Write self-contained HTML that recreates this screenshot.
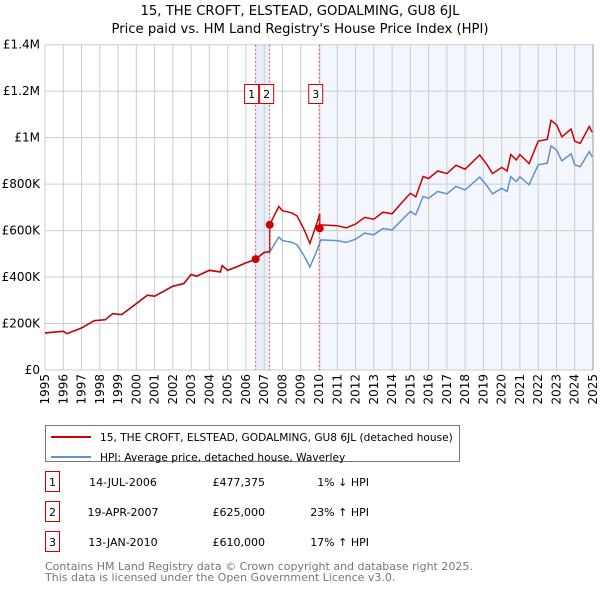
<!DOCTYPE html>
<html><head><meta charset="utf-8"><style>
body{margin:0;background:#fff;font-family:"DejaVu Sans","Liberation Sans",sans-serif;}
svg text{font-family:"DejaVu Sans","Liberation Sans",sans-serif;}
</style></head><body>
<svg id="c" width="600" height="590">
<text x="300" y="15" text-anchor="middle" font-size="13.2">15, THE CROFT, ELSTEAD, GODALMING, GU8 6JL</text>
<text x="300" y="33" text-anchor="middle" font-size="13.2">Price paid vs. HM Land Registry's House Price Index (HPI)</text>
<g id="plot"></g>
<g>
<rect x="45.5" y="425.5" width="414" height="36" fill="#fff" stroke="#777"/>
<line x1="51" y1="437" x2="91" y2="437" stroke="#cc0000" stroke-width="2"/>
<text x="100" y="441" font-size="10.6">15, THE CROFT, ELSTEAD, GODALMING, GU8 6JL (detached house)</text>
<line x1="51" y1="457" x2="91" y2="457" stroke="#6090d0" stroke-width="2"/>
<text x="100" y="461" font-size="10.6">HPI: Average price, detached house, Waverley</text>
</g>
<g id="tbl" font-size="11"></g>
<text x="45" y="570" font-size="11" fill="#777">Contains HM Land Registry data © Crown copyright and database right 2025.</text>
<text x="45" y="581" font-size="11" fill="#777">This data is licensed under the Open Government Licence v3.0.</text>
</svg>
<script>
const hpiYears=[1995,1996,1996.2,1997,1997.7,1998.3,1998.7,1999.2,2000,2000.6,2001,2001.5,2002,2002.6,2003,2003.3,2004,2004.6,2004.7,2005,2005.5,2006,2006.5,2007,2007.3,2007.8,2008,2008.5,2008.8,2009.2,2009.5,2009.9,2010.1,2011,2011.5,2012,2012.5,2013,2013.5,2014,2014.5,2015,2015.3,2015.7,2016,2016.5,2017,2017.5,2018,2018.8,2019.2,2019.5,2020,2020.3,2020.5,2020.8,2021,2021.5,2022,2022.5,2022.7,2023,2023.3,2023.8,2024,2024.3,2024.8,2024.95];
const hpiValues=[159,166,156,180,212,216,242,238,285,321,317,338,360,371,410,403,428,421,448,428,443,460,474,505,508,572,557,550,539,489,443,517,560,557,549,563,589,582,609,603,643,682,668,747,739,768,758,790,775,830,792,758,782,768,832,811,832,797,883,890,964,947,900,930,883,875,940,918];
const saleYears=[2006.53,2007.3,2010.04];
const saleLabels=["1","2","3"];
const salePrices=[477375,625000,610000];
const saleDates=["14-JUL-2006","19-APR-2007","13-JAN-2010"];
const saleDiffs=["1% \u2193 HPI","23% \u2191 HPI","17% \u2191 HPI"];
const yTicks=[0,200000,400000,600000,800000,1000000,1200000,1400000];
const yTickLabels=["£0","£200K","£400K","£600K","£800K","£1M","£1.2M","£1.4M"];
const x0=45,x1=593,y0=370,y1=44.7;
const X=t=>x0+(t-1995)/30*(x1-x0);
const Y=v=>y0-v/1400000*(y0-y1);
const NS="http://www.w3.org/2000/svg";
const g=document.getElementById('plot');
function mk(tag,attrs,parent){const e=document.createElementNS(NS,tag);for(const k in attrs)e.setAttribute(k,attrs[k]);(parent||g).appendChild(e);return e;}
function hpiAt(t){for(let i=1;i<hpiYears.length;i++){if(t<=hpiYears[i]){const f=(t-hpiYears[i-1])/(hpiYears[i]-hpiYears[i-1]);return (hpiValues[i-1]+f*(hpiValues[i]-hpiValues[i-1]))*1000;}}return hpiValues[hpiValues.length-1]*1000;}
let r=mk('rect',{x:X(saleYears[0]),y:y1,width:X(saleYears[1])-X(saleYears[0]),height:y0-y1,fill:'#e8effb'});

r=mk('rect',{x:X(saleYears[2]),y:y1,width:x1-X(saleYears[2]),height:y0-y1,fill:'#f3f6fd'});

for(let yr=1995;yr<=2025;yr++){const l=mk('line',{x1:X(yr),x2:X(yr),y1:y1,y2:y0,stroke:'#ccc'});

const t=mk('text',{x:0,y:0,transform:`translate(${X(yr)+4},${y0+4}) rotate(-90)`,'text-anchor':'end','font-size':12});t.textContent=yr;
}
yTicks.forEach((v,i)=>{const l=mk('line',{x1:x0,x2:x1,y1:Y(v),y2:Y(v),stroke:'#ccc'});

const t=mk('text',{x:x0-5,y:Y(v)+4,'text-anchor':'end','font-size':12});t.textContent=yTickLabels[i];
});
let d=hpiYears.map((t,i)=>(i?'L':'M')+X(t).toFixed(1)+','+Y(hpiValues[i]*1000).toFixed(1)).join('');
let p=mk('path',{d:d,fill:'none',stroke:'#6090d0','stroke-width':1.5});

const ratio0=salePrices[0]/hpiAt(saleYears[0]);
function prop(t){let k=ratio0;for(let s=0;s<saleYears.length;s++){if(t>=saleYears[s])k=salePrices[s]/hpiAt(saleYears[s]);}return hpiAt(t)*k;}
let pts=[...hpiYears];saleYears.forEach(s=>{pts.push(s-0.001,s);});pts.sort((a,b)=>a-b);
d=pts.map((t,i)=>(i?'L':'M')+X(t).toFixed(1)+','+Y(prop(t)).toFixed(1)).join('');
p=mk('path',{d:d,fill:'none',stroke:'#cc0000','stroke-width':1.5});

saleYears.forEach((s,i)=>{const l=mk('line',{x1:X(s),x2:X(s),y1:y1,y2:y0,stroke:'#e05050','stroke-dasharray':'2,2'});

const c=mk('circle',{cx:X(s),cy:Y(salePrices[i]),r:4,fill:'#cc0000'});

const bx=i==1?X(s)-10:X(s)-11;
const b=mk('rect',{x:bx,y:84.5,width:14,height:19,fill:'#fff',stroke:'#cc0000'});

const t=mk('text',{x:bx+7,y:98,'text-anchor':'middle','font-size':11});t.textContent=saleLabels[i];
});
mk('line',{x1:x1,x2:x1,y1:y1,y2:y0,stroke:'#999'});
const tb=document.getElementById('tbl');
saleLabels.forEach((lab,i)=>{const y=483+i*30;
let e=mk('rect',{x:45.5,y:y-11.5,width:14,height:20,fill:'#fff',stroke:'#cc0000'},tb);

e=mk('text',{x:52.5,y:y+3,'text-anchor':'middle'},tb);e.textContent=lab;

e=mk('text',{x:123,y:y+3,'text-anchor':'middle'},tb);e.textContent=saleDates[i];

e=mk('text',{x:265,y:y+3,'text-anchor':'end'},tb);e.textContent='£'+salePrices[i].toLocaleString('en-GB');

e=mk('text',{x:369,y:y+3,'text-anchor':'end'},tb);e.textContent=saleDiffs[i];
});
</script>
</body></html>
